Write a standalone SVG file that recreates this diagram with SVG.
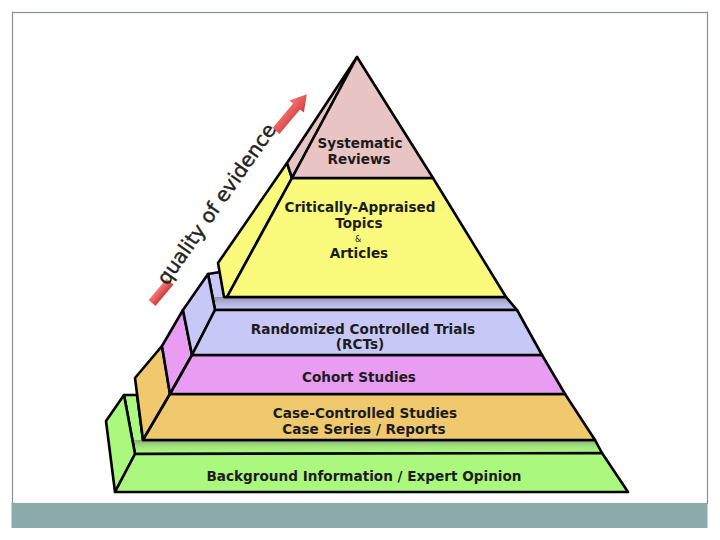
<svg xmlns="http://www.w3.org/2000/svg" width="720" height="540" viewBox="0 0 720 540">
<defs>
<linearGradient id="shBlue" gradientUnits="userSpaceOnUse" x1="0" y1="260" x2="0" y2="309">
<stop offset="0" stop-color="#c8c8f8"/><stop offset="0.75" stop-color="#c8c8f8"/><stop offset="0.76" stop-color="#9494ae"/><stop offset="0.88" stop-color="#b4b4e0"/><stop offset="1" stop-color="#c8c8f8"/>
</linearGradient>
<linearGradient id="shGreen" gradientUnits="userSpaceOnUse" x1="0" y1="390" x2="0" y2="452">
<stop offset="0" stop-color="#aaf87e"/><stop offset="0.8" stop-color="#aaf87e"/><stop offset="0.81" stop-color="#8cac7c"/><stop offset="0.9" stop-color="#9ee07a"/><stop offset="1" stop-color="#aaf87e"/>
</linearGradient>
<linearGradient id="red" x1="0" y1="0" x2="0" y2="1">
<stop offset="0" stop-color="#f07a7a"/><stop offset="0.5" stop-color="#e85a5a"/><stop offset="1" stop-color="#c84040"/>
</linearGradient>
</defs>
<style>
.e{stroke:#000;stroke-width:2.6;stroke-linejoin:round}
.pk{fill:#e8c4c4}
.yl{fill:#fafa7c}
.bl{fill:#c8c8f8}
.mg{fill:#e89cf2}
.or{fill:#f0c86e}
.gr{fill:#aaf87e}
.t{font-family:"DejaVu Sans",Verdana,sans-serif;font-weight:bold;font-size:13.6px;fill:#1c1c1c;text-anchor:middle}
</style>
<rect x="0" y="0" width="720" height="540" fill="#ffffff"/>
<rect x="12.5" y="12.5" width="695" height="491" fill="none" stroke="#8a8f8f" stroke-width="1.2"/>
<rect x="11.5" y="503" width="696" height="25" fill="#8baaaa"/>

<g id="tier-green">
<polygon class="e" points="124,395 137,395 143,440 595,440 602,453 135,454" fill="url(#shGreen)"/>
<polygon class="e gr" points="124,395 106,421 115,492 135,454"/>
<polygon class="e gr" points="135,454 602,453 628,492 115,492"/>
<text class="t" x="364" y="481">Background Information / Expert Opinion</text>
</g>

<g id="tier-orange">
<polygon class="e or" points="162,346 135,378 143,440 170,394"/>
<polygon class="e or" points="170,394 565,394 595,440 143,440"/>
<text class="t" x="365" y="418">Case-Controlled Studies</text>
<text class="t" x="364" y="434">Case Series / Reports</text>
</g>

<g id="tier-cohort">
<polygon class="e mg" points="183,310 162,346 170,394 192,355"/>
<polygon class="e mg" points="192,355 542,355 565,394 170,394"/>
<text class="t" x="359" y="382">Cohort Studies</text>
</g>

<g id="tier-rct">
<polygon class="e" points="208,274 220,272 225,297 506,297 517,310 215,310" fill="url(#shBlue)"/>
<polygon class="e bl" points="208,274 183,310 192,355 215,310"/>
<polygon class="e bl" points="215,310 517,310 542,355 192,355"/>
<text class="t" x="363" y="334">Randomized Controlled Trials</text>
<text class="t" x="360" y="349">(RCTs)</text>
</g>

<g id="tier-cat">
<polygon class="e yl" points="287,163 292,178 227,297 224,297 218,263"/>
<polygon class="e yl" points="292,178 433,178 506,297 227,297"/>
<text class="t" x="360" y="212">Critically-Appraised</text>
<text class="t" x="359" y="228">Topics</text>
<text x="358" y="242" font-family="DejaVu Sans,sans-serif" font-size="8" fill="#1c1c1c" text-anchor="middle">&amp;</text>
<text class="t" x="359" y="258">Articles</text>
</g>

<g id="tier-sr">
<polygon class="e pk" points="357,57 287,163 292,178"/>
<polygon class="e pk" points="357,57 433,178 292,178"/>
<text class="t" x="360" y="148">Systematic</text>
<text class="t" x="359" y="164">Reviews</text>
</g>

<g id="quality-arrow">
<rect x="0" y="-4.5" width="28" height="9" fill="url(#red)" transform="translate(152,303) rotate(-50)"/>
<path d="M0,-4.5 L32,-4.5 L32,-9.5 L48,0 L32,9.5 L32,4.5 L0,4.5 Z" fill="url(#red)" transform="translate(276,131) rotate(-50)"/>
<text x="0" y="0" transform="translate(222,208) rotate(-55)" font-family="DejaVu Sans,Verdana,sans-serif" font-size="20" fill="#222" stroke="#222" stroke-width="0.4" text-anchor="middle">quality of evidence</text>
</g>
</svg>
